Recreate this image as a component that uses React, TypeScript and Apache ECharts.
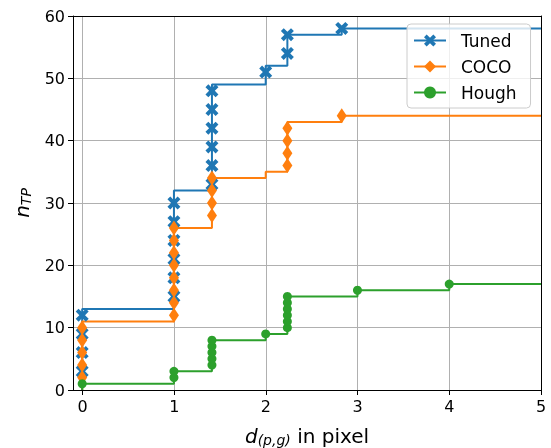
import React, { useEffect, useRef } from 'react';
import * as echarts from 'echarts';

const FONT = 'DejaVu Sans';

// distinct distances (pixels) at which n_TP increases
const distances = [0, 1, Math.SQRT2, 2, Math.sqrt(5), Math.sqrt(8)];
const houghDistances = [0, 1, Math.SQRT2, 2, Math.sqrt(5), 3, 4];

// n_TP level reached at each distance
const tunedTop = [13, 32, 49, 52, 57, 58];
const cocoTop = [11, 26, 34, 35, 43, 44];
const houghTop = [1, 3, 8, 9, 15, 16, 17];

// marker positions on each vertical jump
const tunedMarks = [[3, 6, 9, 12], [15, 18, 21, 24, 27, 30], [33, 36, 39, 42, 45, 48], [51], [54, 57], [58]];
const cocoMarks = [[2, 4, 6, 8, 10], [12, 14, 16, 18, 20, 22, 24, 26], [28, 30, 32, 34], [], [36, 38, 40, 42], [44]];
const houghMarks = [[1], [2, 3], [4, 5, 6, 7, 8], [9], [10, 11, 12, 13, 14, 15], [16], [17]];

const xTicks = [0, 1, 2, 3, 4, 5];
const xMin = -0.1;
const xMax = 5;
const yMin = 0;
const yMax = 60;
const yStep = 10;

const seriesNames = ['Tuned', 'COCO', 'Hough'];
const colors = ['#1f77b4', '#ff7f0e', '#2ca02c'];

const X_PATH = 'path://M0,2.2L2.2,0L5,2.8L7.8,0L10,2.2L7.2,5L10,7.8L7.8,10L5,7.2L2.2,10L0,7.8L2.8,5Z';

function buildSteps(ds: number[], tops: number[], marks: number[][], xEnd: number) {
  const data: any[] = [{ value: [ds[0], 0], symbol: 'none' }];
  ds.forEach((d, i) => {
    marks[i].forEach((y) => data.push({ value: [d, y] }));
    if (!marks[i].includes(tops[i])) data.push({ value: [d, tops[i]], symbol: 'none' });
  });
  data.push({ value: [xEnd, tops[tops.length - 1]], symbol: 'none' });
  return data;
}

export default function App() {
  const ref = useRef<HTMLDivElement>(null);
  useEffect(() => {
    if (!ref.current) return;
    const chart = echarts.init(ref.current, null, { renderer: 'svg' });
    const gridPos = { top: 16, bottom: 58, right: 10 };
    const tickStyle = { show: true, inside: false, length: 5, lineStyle: { color: '#000', width: 1 } };
    const labelStyle = { color: '#000', fontSize: 16, fontFamily: FONT, margin: 8 };
    const mkLine = (name: string, color: string, symbol: string, size: any, data: any[]) => ({
      name,
      type: 'line',
      xAxisIndex: 0,
      yAxisIndex: 0,
      step: 'end',
      data,
      symbol,
      symbolSize: size,
      showSymbol: true,
      color,
      lineStyle: { color, width: 2 },
      itemStyle: { color, borderWidth: 0 },
      emphasis: { disabled: true },
      z: 3,
    });
    chart.setOption({
      animation: false,
      grid: [
        { left: 73, ...gridPos },
        { left: 82.6, ...gridPos },
      ],
      xAxis: [
        {
          type: 'value', gridIndex: 0, min: xMin, max: xMax, position: 'bottom', z: 1,
          axisLine: { show: true, onZero: false, lineStyle: { color: '#000', width: 1 } },
          axisTick: { show: false }, axisLabel: { show: false }, splitLine: { show: false },
        },
        {
          type: 'value', gridIndex: 0, min: xMin, max: xMax, position: 'top', z: 1,
          axisLine: { show: true, onZero: false, lineStyle: { color: '#000', width: 1 } },
          axisTick: { show: false }, axisLabel: { show: false }, splitLine: { show: false },
        },
        {
          type: 'value', gridIndex: 1, min: xTicks[0], max: xTicks[xTicks.length - 1], interval: 1,
          position: 'bottom',
          axisLine: { show: false, onZero: false },
          axisTick: tickStyle,
          axisLabel: labelStyle,
          splitLine: { show: true, lineStyle: { color: '#b0b0b0', width: 1 } },
        },
      ],
      yAxis: [
        {
          type: 'value', gridIndex: 0, min: yMin, max: yMax, interval: yStep, position: 'left',
          axisLine: { show: true, onZero: false, lineStyle: { color: '#000', width: 1 } },
          axisTick: tickStyle,
          axisLabel: labelStyle,
          splitLine: { show: true, lineStyle: { color: '#b0b0b0', width: 1 } },
        },
        {
          type: 'value', gridIndex: 0, min: yMin, max: yMax, position: 'right', z: 1,
          axisLine: { show: true, onZero: false, lineStyle: { color: '#000', width: 1 } },
          axisTick: { show: false }, axisLabel: { show: false }, splitLine: { show: false },
        },
        {
          type: 'value', gridIndex: 1, min: yMin, max: yMax, show: false,
        },
      ],
      legend: {
        orient: 'vertical',
        left: 407,
        top: 24,
        padding: [8, 14, 7, 6],
        itemWidth: 32,
        itemHeight: 15,
        itemGap: 9,
        borderColor: '#cccccc',
        borderWidth: 1,
        borderRadius: 4,
        backgroundColor: 'rgba(255,255,255,0.8)',
        textStyle: { fontSize: 17, fontFamily: FONT, color: '#000', padding: [0, 0, 0, 10] },
        data: seriesNames,
      },
      series: [
        mkLine(seriesNames[0], colors[0], X_PATH, 13, buildSteps(distances, tunedTop, tunedMarks, xMax)),
        mkLine(seriesNames[1], colors[1], 'diamond', [10, 15], buildSteps(distances, cocoTop, cocoMarks, xMax)),
        mkLine(seriesNames[2], colors[2], 'circle', 9, buildSteps(houghDistances, houghTop, houghMarks, xMax)),
      ],
      graphic: [
        {
          type: 'text',
          x: 307,
          y: 436,
          style: {
            text: '{it|d}{sub|(p,g)}{rm| in pixel}',
            align: 'center',
            verticalAlign: 'middle',
            fill: '#000',
            rich: {
              it: { fontFamily: FONT, fontStyle: 'italic', fontSize: 20, lineHeight: 22, verticalAlign: 'middle' },
              sub: { fontFamily: FONT, fontStyle: 'italic', fontSize: 14, lineHeight: 13, verticalAlign: 'bottom' },
              rm: { fontFamily: FONT, fontSize: 20, lineHeight: 22, verticalAlign: 'middle' },
            },
          },
        },
        {
          type: 'text',
          x: 22,
          y: 203,
          rotation: Math.PI / 2,
          style: {
            text: '{it|n}{sub|TP}',
            align: 'center',
            verticalAlign: 'middle',
            fill: '#000',
            rich: {
              it: { fontFamily: FONT, fontStyle: 'italic', fontSize: 20, lineHeight: 22, verticalAlign: 'middle' },
              sub: { fontFamily: FONT, fontStyle: 'italic', fontSize: 14, lineHeight: 13, verticalAlign: 'bottom' },
            },
          },
        },
      ],
    });
    return () => chart.dispose();
  }, []);
  return <div ref={ref} style={{ position: 'fixed', left: 0, top: 0, width: 551, height: 448 }} />;
}
